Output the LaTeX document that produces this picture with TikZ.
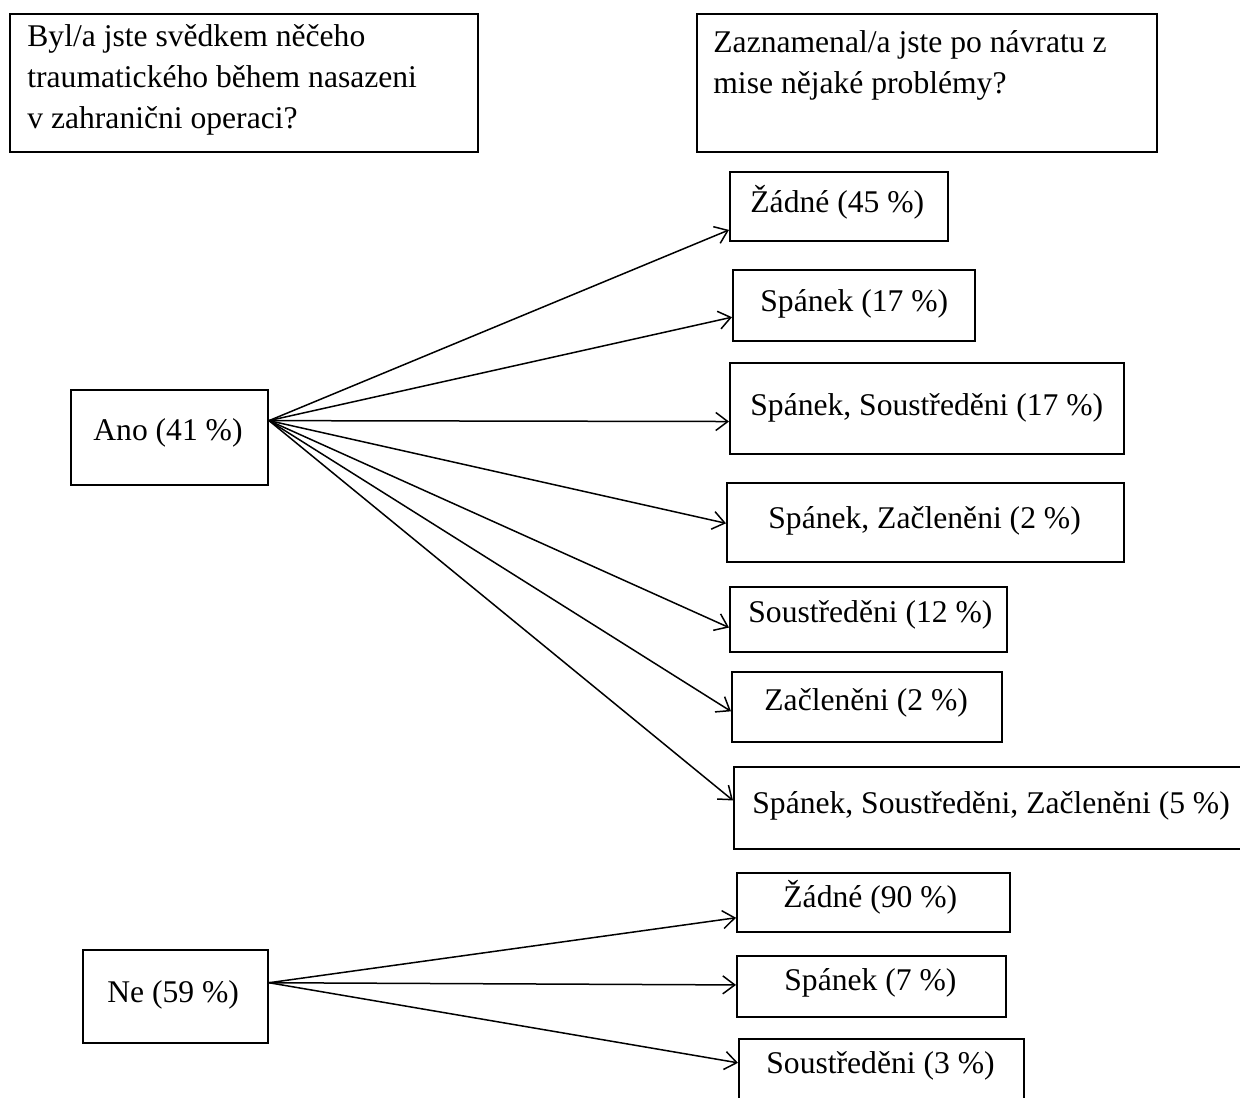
\documentclass[tikz,border=0pt]{standalone}
\usepackage{fontspec}
\setmainfont{Liberation Serif}
\usetikzlibrary{arrows.meta,calc,fit}
\begin{document}
\begin{tikzpicture}[x=0.5pt,y=-0.5pt,
  box/.style={draw=black,line width=1pt,inner sep=0pt,rectangle},
  txt/.style={anchor=base west,inner sep=0pt,font=\fontsize{15.8pt}{20pt}\selectfont},
  conn/.style={draw=black,line width=0.75pt,-{Straight Barb[length=6pt,width=9pt,line width=0.75pt]}}]
\useasboundingbox (0,0) rectangle (1240,1097);
\clip (0,0) rectangle (1240,1097);
\fill[white] (0,0) rectangle (1240,1097);

% question boxes
\node[box,fit={(10,14) (478,152)}] (q1) {};
\node[txt] (q1a) at (27,47) {Byl/a jste svědkem něčeho};
\node[txt] (q1b) at (27,88) {traumatického během nasazeni};
\node[txt] (q1c) at (27,128) {v zahranični operaci?};
\node[box,fit={(697,14) (1157,152)}] (q2) {};
\node[txt] (q2a) at (713,53) {Zaznamenal/a jste po návratu z};
\node[txt] (q2b) at (713,94) {mise nějaké problémy?};

% answers
\node[box,fit={(71,390) (268,485)}] (ano) {};
\node[txt] (tano) at (93,440) {Ano (41 \%)};
\node[box,fit={(83,950) (268,1043)}] (ne) {};
\node[txt] (tne) at (107,1002) {Ne (59 \%)};

% problems after return, witnesses
\node[box,fit={(730,172) (948,241)}] (b1) {};
\node[txt] (t1) at (750,212) {Žádné (45 \%)};
\node[box,fit={(733,270) (975,341)}] (b2) {};
\node[txt] (t2) at (760,311) {Spánek (17 \%)};
\node[box,fit={(730,363) (1124,454)}] (b3) {};
\node[txt] (t3) at (750,415) {Spánek, Soustředěni (17 \%)};
\node[box,fit={(727,483) (1124,562)}] (b4) {};
\node[txt] (t4) at (768,528) {Spánek, Začleněni (2 \%)};
\node[box,fit={(730,587) (1007,652)}] (b5) {};
\node[txt] (t5) at (748,622) {Soustředěni (12 \%)};
\node[box,fit={(732,672) (1002,742)}] (b6) {};
\node[txt] (t6) at (764,710) {Začleněni (2 \%)};
\node[box,fit={(734,767) (1252,849)}] (b7) {};
\node[txt] (t7) at (752,813) {Spánek, Soustředěni, Začleněni (5 \%)};

% problems after return, non-witnesses
\node[box,fit={(737,873) (1010,932)}] (b8) {};
\node[txt] (t8) at (783,907) {Žádné (90 \%)};
\node[box,fit={(737,956) (1006,1017)}] (b9) {};
\node[txt] (t9) at (784,990) {Spánek (7 \%)};
\node[box,fit={(739,1039) (1024,1110)}] (b10) {};
\node[txt] (t10) at (766,1073) {Soustředěni (3 \%)};

% connectors
\coordinate (oa) at ($(ano.north east)!0.326!(ano.south east)$);
\coordinate (on) at ($(ne.north east)!0.355!(ne.south east)$);
\draw[conn] (oa) -- ($(b1.north west)!0.83!(b1.south west)$);
\draw[conn] (oa) -- ($(b2.north west)!0.66!(b2.south west)$);
\draw[conn] (oa) -- ($(b3.north west)!0.64!(b3.south west)$);
\draw[conn] (oa) -- ($(b4.north west)!0.51!(b4.south west)$);
\draw[conn] (oa) -- ($(b5.north west)!0.62!(b5.south west)$);
\draw[conn] (oa) -- ($(b6.north west)!0.56!(b6.south west)$);
\draw[conn] (oa) -- ($(b7.north west)!0.41!(b7.south west)$);
\draw[conn] (on) -- ($(b8.north west)!0.75!(b8.south west)$);
\draw[conn] (on) -- ($(b9.north west)!0.475!(b9.south west)$);
\draw[conn] (on) -- ($(b10.north west)!0.34!(b10.south west)$);
\end{tikzpicture}
\end{document}
